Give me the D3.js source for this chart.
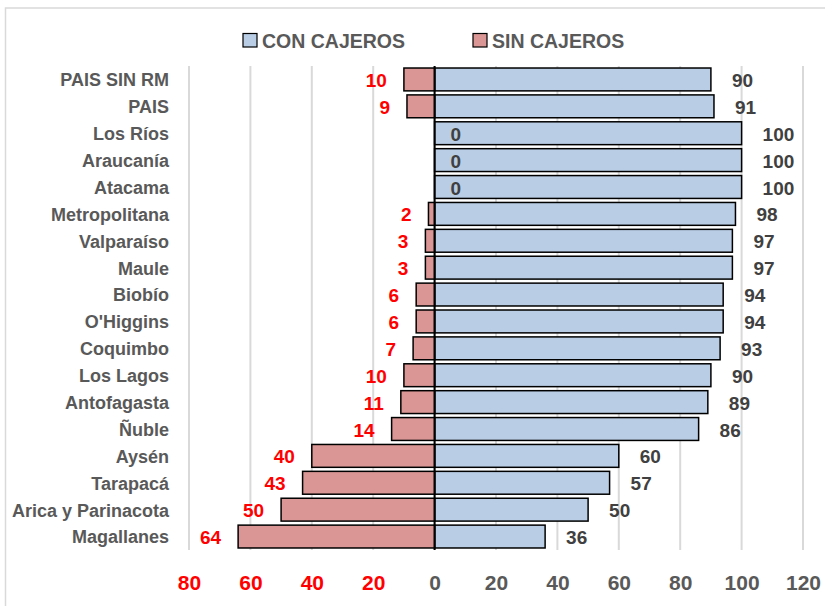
<!DOCTYPE html>
<html>
<head>
<meta charset="utf-8">
<script src="https://cdn.jsdelivr.net/npm/d3@7"></script>
<style>
  html, body { margin: 0; padding: 0; background: #fff; }
  svg { display: block; font-family: "Liberation Sans", Arial, sans-serif; font-weight: bold; }
</style>
</head>
<body>
<svg id="chart" width="825" height="606"></svg>
<script>
// Share of each region with and without ATMs (%)
const regions = ["PAIS SIN RM", "PAIS", "Los Ríos", "Araucanía", "Atacama", "Metropolitana",
  "Valparaíso", "Maule", "Biobío", "O'Higgins", "Coquimbo", "Los Lagos", "Antofagasta",
  "Ñuble", "Aysén", "Tarapacá", "Arica y Parinacota", "Magallanes"];
const conCajeros = [90, 91, 100, 100, 100, 98, 97, 97, 94, 94, 93, 90, 89, 86, 60, 57, 50, 36];
const sinCajeros = [10, 9, 0, 0, 0, 2, 3, 3, 6, 6, 7, 10, 11, 14, 40, 43, 50, 64];
const xTicks = [-80, -60, -40, -20, 0, 20, 40, 60, 80, 100, 120];
const seriesNames = ["CON CAJEROS", "SIN CAJEROS"];

const svg = d3.select("#chart");
const blueFill = "#B9CDE5", redFill = "#D99694";
const red = "#FF0000", grey = "#595959", darkGrey = "#404040";

// outer chart frame
svg.append("rect").attr("x", 5.5).attr("y", 8).attr("width", 840).attr("height", 620)
  .attr("fill", "none").attr("stroke", "#D9D9D9").attr("stroke-width", 1.5);

const x = d3.scaleLinear().domain([-80, 120]).range([189, 803]);
const y = d3.scaleBand().domain(regions).range([66, 550]).paddingInner(0.15).paddingOuter(0.075);

// vertical gridlines
svg.append("g").selectAll("line").data(xTicks).join("line")
  .attr("x1", d => x(d)).attr("x2", d => x(d))
  .attr("y1", 66).attr("y2", 550)
  .attr("stroke", "#D9D9D9").attr("stroke-width", 2);

// x axis tick labels (left side shown as absolute values)
const xAxis = d3.axisBottom(x).tickValues(xTicks).tickSize(0).tickFormat(d => Math.abs(d));
const gx = svg.append("g").attr("transform", "translate(0,575)").call(xAxis);
gx.select(".domain").remove();
gx.selectAll("text")
  .attr("font-size", 21).attr("font-family", "Liberation Sans, Arial, sans-serif")
  .attr("font-weight", "bold").attr("dy", "0.71em").attr("y", 0)
  .attr("fill", d => d < 0 ? red : grey);

// category labels
const yAxis = d3.axisLeft(y).tickSize(0);
const gy = svg.append("g").attr("transform", "translate(169,0)").call(yAxis);
gy.select(".domain").remove();
gy.selectAll("text")
  .attr("x", 0).attr("dy", "0.38em").attr("font-size", 18)
  .attr("font-family", "Liberation Sans, Arial, sans-serif")
  .attr("font-weight", "bold").attr("fill", grey);

const rows = regions.map((r, i) => ({ region: r, con: conCajeros[i], sin: sinCajeros[i] }));

// "con cajeros" bars (positive side)
svg.append("g").selectAll("rect").data(rows).join("rect")
  .attr("x", x(0)).attr("y", d => y(d.region))
  .attr("width", d => x(d.con) - x(0)).attr("height", y.bandwidth())
  .attr("fill", blueFill).attr("stroke", "#000").attr("stroke-width", 1.5);

// "sin cajeros" bars (negative side)
svg.append("g").selectAll("rect").data(rows.filter(d => d.sin > 0)).join("rect")
  .attr("x", d => x(-d.sin)).attr("y", d => y(d.region))
  .attr("width", d => x(0) - x(-d.sin)).attr("height", y.bandwidth())
  .attr("fill", redFill).attr("stroke", "#000").attr("stroke-width", 1.5);

// zero axis line
svg.append("line").attr("x1", x(0)).attr("x2", x(0)).attr("y1", 66).attr("y2", 550)
  .attr("stroke", "#000").attr("stroke-width", 2);

// value labels
const lab = svg.append("g").attr("font-size", 19);
lab.selectAll("text.con").data(rows).join("text").attr("class", "con")
  .attr("x", d => x(d.con) + 21).attr("y", d => y(d.region) + y.bandwidth() / 2)
  .attr("dy", "0.4em").attr("fill", darkGrey).text(d => d.con);
lab.selectAll("text.sin").data(rows).join("text").attr("class", "sin")
  .attr("x", d => d.sin > 0 ? x(-d.sin) - 17 : x(0) + 16)
  .attr("text-anchor", d => d.sin > 0 ? "end" : "start")
  .attr("y", d => y(d.region) + y.bandwidth() / 2)
  .attr("dy", "0.4em").attr("fill", d => d.sin > 0 ? red : darkGrey).text(d => d.sin);

// legend
const legend = svg.append("g");
const legendItems = [
  { name: seriesNames[0], fill: blueFill, x: 243 },
  { name: seriesNames[1], fill: redFill, x: 473 }
];
legendItems.forEach(it => {
  legend.append("rect").attr("x", it.x).attr("y", 33.5).attr("width", 14).attr("height", 13.5)
    .attr("fill", it.fill).attr("stroke", "#000").attr("stroke-width", 1.2);
  legend.append("text").attr("x", it.x + 19).attr("y", 40.5).attr("dy", "0.36em")
    .attr("font-size", 19.5).attr("fill", grey).text(it.name);
});
</script>
</body>
</html>
